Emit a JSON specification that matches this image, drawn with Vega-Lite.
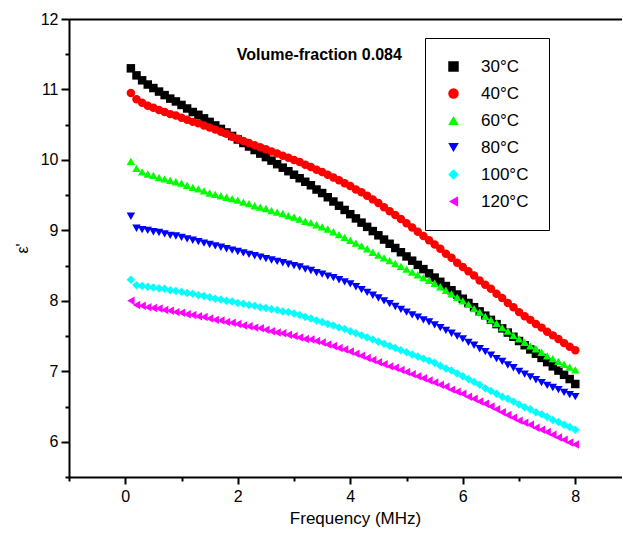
{
  "$schema": "https://vega.github.io/schema/vega-lite/v6.json",
  "width": 553,
  "height": 458,
  "autosize": {"type": "none"},
  "padding": {"left": 69, "top": 19, "right": 0, "bottom": 58},
  "background": "white",
  "config": {
    "font": "Liberation Sans",
    "view": {"stroke": null}
  },
  "resolve": {"axis": {"x": "independent", "y": "independent"}},
  "layer": [
    {
      "data": {"values": [
{"T":"30°C","f":0.1,"e":11.30},{"T":"30°C","f":0.2,"e":11.20},{"T":"30°C","f":0.3,"e":11.13},{"T":"30°C","f":0.4,"e":11.07},{"T":"30°C","f":0.5,"e":11.02},{"T":"30°C","f":0.6,"e":10.97},{"T":"30°C","f":0.7,"e":10.92},{"T":"30°C","f":0.8,"e":10.87},{"T":"30°C","f":0.9,"e":10.83},{"T":"30°C","f":1.0,"e":10.78},
{"T":"30°C","f":1.1,"e":10.73},{"T":"30°C","f":1.2,"e":10.68},{"T":"30°C","f":1.3,"e":10.64},{"T":"30°C","f":1.4,"e":10.59},{"T":"30°C","f":1.5,"e":10.54},{"T":"30°C","f":1.6,"e":10.49},{"T":"30°C","f":1.7,"e":10.44},{"T":"30°C","f":1.8,"e":10.39},{"T":"30°C","f":1.9,"e":10.34},{"T":"30°C","f":2.0,"e":10.29},
{"T":"30°C","f":2.1,"e":10.24},{"T":"30°C","f":2.2,"e":10.19},{"T":"30°C","f":2.3,"e":10.14},{"T":"30°C","f":2.4,"e":10.09},{"T":"30°C","f":2.5,"e":10.04},{"T":"30°C","f":2.6,"e":9.99},{"T":"30°C","f":2.7,"e":9.94},{"T":"30°C","f":2.8,"e":9.89},{"T":"30°C","f":2.9,"e":9.84},{"T":"30°C","f":3.0,"e":9.79},
{"T":"30°C","f":3.1,"e":9.74},{"T":"30°C","f":3.2,"e":9.69},{"T":"30°C","f":3.3,"e":9.64},{"T":"30°C","f":3.4,"e":9.58},{"T":"30°C","f":3.5,"e":9.53},{"T":"30°C","f":3.6,"e":9.47},{"T":"30°C","f":3.7,"e":9.41},{"T":"30°C","f":3.8,"e":9.35},{"T":"30°C","f":3.9,"e":9.29},{"T":"30°C","f":4.0,"e":9.23},
{"T":"30°C","f":4.1,"e":9.17},{"T":"30°C","f":4.2,"e":9.11},{"T":"30°C","f":4.3,"e":9.05},{"T":"30°C","f":4.4,"e":8.99},{"T":"30°C","f":4.5,"e":8.93},{"T":"30°C","f":4.6,"e":8.87},{"T":"30°C","f":4.7,"e":8.81},{"T":"30°C","f":4.8,"e":8.75},{"T":"30°C","f":4.9,"e":8.69},{"T":"30°C","f":5.0,"e":8.63},
{"T":"30°C","f":5.1,"e":8.57},{"T":"30°C","f":5.2,"e":8.51},{"T":"30°C","f":5.3,"e":8.45},{"T":"30°C","f":5.4,"e":8.39},{"T":"30°C","f":5.5,"e":8.33},{"T":"30°C","f":5.6,"e":8.27},{"T":"30°C","f":5.7,"e":8.21},{"T":"30°C","f":5.8,"e":8.15},{"T":"30°C","f":5.9,"e":8.09},{"T":"30°C","f":6.0,"e":8.03},
{"T":"30°C","f":6.1,"e":7.97},{"T":"30°C","f":6.2,"e":7.91},{"T":"30°C","f":6.3,"e":7.85},{"T":"30°C","f":6.4,"e":7.79},{"T":"30°C","f":6.5,"e":7.73},{"T":"30°C","f":6.6,"e":7.67},{"T":"30°C","f":6.7,"e":7.61},{"T":"30°C","f":6.8,"e":7.55},{"T":"30°C","f":6.9,"e":7.49},{"T":"30°C","f":7.0,"e":7.43},
{"T":"30°C","f":7.1,"e":7.37},{"T":"30°C","f":7.2,"e":7.31},{"T":"30°C","f":7.3,"e":7.25},{"T":"30°C","f":7.4,"e":7.19},{"T":"30°C","f":7.5,"e":7.13},{"T":"30°C","f":7.6,"e":7.07},{"T":"30°C","f":7.7,"e":7.01},{"T":"30°C","f":7.8,"e":6.95},{"T":"30°C","f":7.9,"e":6.89},{"T":"30°C","f":8.0,"e":6.82},
{"T":"40°C","f":0.1,"e":10.95},{"T":"40°C","f":0.2,"e":10.86},{"T":"40°C","f":0.3,"e":10.81},{"T":"40°C","f":0.4,"e":10.77},{"T":"40°C","f":0.5,"e":10.74},{"T":"40°C","f":0.6,"e":10.71},{"T":"40°C","f":0.7,"e":10.68},{"T":"40°C","f":0.8,"e":10.65},{"T":"40°C","f":0.9,"e":10.63},{"T":"40°C","f":1.0,"e":10.60},
{"T":"40°C","f":1.1,"e":10.57},{"T":"40°C","f":1.2,"e":10.54},{"T":"40°C","f":1.3,"e":10.52},{"T":"40°C","f":1.4,"e":10.49},{"T":"40°C","f":1.5,"e":10.46},{"T":"40°C","f":1.6,"e":10.43},{"T":"40°C","f":1.7,"e":10.40},{"T":"40°C","f":1.8,"e":10.37},{"T":"40°C","f":1.9,"e":10.33},{"T":"40°C","f":2.0,"e":10.30},
{"T":"40°C","f":2.1,"e":10.27},{"T":"40°C","f":2.2,"e":10.24},{"T":"40°C","f":2.3,"e":10.21},{"T":"40°C","f":2.4,"e":10.18},{"T":"40°C","f":2.5,"e":10.15},{"T":"40°C","f":2.6,"e":10.12},{"T":"40°C","f":2.7,"e":10.09},{"T":"40°C","f":2.8,"e":10.06},{"T":"40°C","f":2.9,"e":10.03},{"T":"40°C","f":3.0,"e":10.00},
{"T":"40°C","f":3.1,"e":9.97},{"T":"40°C","f":3.2,"e":9.93},{"T":"40°C","f":3.3,"e":9.90},{"T":"40°C","f":3.4,"e":9.86},{"T":"40°C","f":3.5,"e":9.83},{"T":"40°C","f":3.6,"e":9.79},{"T":"40°C","f":3.7,"e":9.75},{"T":"40°C","f":3.8,"e":9.71},{"T":"40°C","f":3.9,"e":9.67},{"T":"40°C","f":4.0,"e":9.63},
{"T":"40°C","f":4.1,"e":9.58},{"T":"40°C","f":4.2,"e":9.54},{"T":"40°C","f":4.3,"e":9.49},{"T":"40°C","f":4.4,"e":9.44},{"T":"40°C","f":4.5,"e":9.39},{"T":"40°C","f":4.6,"e":9.33},{"T":"40°C","f":4.7,"e":9.27},{"T":"40°C","f":4.8,"e":9.22},{"T":"40°C","f":4.9,"e":9.16},{"T":"40°C","f":5.0,"e":9.10},
{"T":"40°C","f":5.1,"e":9.04},{"T":"40°C","f":5.2,"e":8.98},{"T":"40°C","f":5.3,"e":8.92},{"T":"40°C","f":5.4,"e":8.86},{"T":"40°C","f":5.5,"e":8.80},{"T":"40°C","f":5.6,"e":8.74},{"T":"40°C","f":5.7,"e":8.67},{"T":"40°C","f":5.8,"e":8.61},{"T":"40°C","f":5.9,"e":8.54},{"T":"40°C","f":6.0,"e":8.48},
{"T":"40°C","f":6.1,"e":8.42},{"T":"40°C","f":6.2,"e":8.36},{"T":"40°C","f":6.3,"e":8.29},{"T":"40°C","f":6.4,"e":8.23},{"T":"40°C","f":6.5,"e":8.17},{"T":"40°C","f":6.6,"e":8.10},{"T":"40°C","f":6.7,"e":8.04},{"T":"40°C","f":6.8,"e":7.97},{"T":"40°C","f":6.9,"e":7.91},{"T":"40°C","f":7.0,"e":7.84},
{"T":"40°C","f":7.1,"e":7.78},{"T":"40°C","f":7.2,"e":7.73},{"T":"40°C","f":7.3,"e":7.67},{"T":"40°C","f":7.4,"e":7.62},{"T":"40°C","f":7.5,"e":7.56},{"T":"40°C","f":7.6,"e":7.51},{"T":"40°C","f":7.7,"e":7.46},{"T":"40°C","f":7.8,"e":7.40},{"T":"40°C","f":7.9,"e":7.35},{"T":"40°C","f":8.0,"e":7.30},
{"T":"60°C","f":0.1,"e":9.98},{"T":"60°C","f":0.2,"e":9.88},{"T":"60°C","f":0.3,"e":9.83},{"T":"60°C","f":0.4,"e":9.80},{"T":"60°C","f":0.5,"e":9.78},{"T":"60°C","f":0.6,"e":9.75},{"T":"60°C","f":0.7,"e":9.73},{"T":"60°C","f":0.8,"e":9.71},{"T":"60°C","f":0.9,"e":9.69},{"T":"60°C","f":1.0,"e":9.67},
{"T":"60°C","f":1.1,"e":9.64},{"T":"60°C","f":1.2,"e":9.61},{"T":"60°C","f":1.3,"e":9.59},{"T":"60°C","f":1.4,"e":9.56},{"T":"60°C","f":1.5,"e":9.53},{"T":"60°C","f":1.6,"e":9.51},{"T":"60°C","f":1.7,"e":9.49},{"T":"60°C","f":1.8,"e":9.47},{"T":"60°C","f":1.9,"e":9.45},{"T":"60°C","f":2.0,"e":9.43},
{"T":"60°C","f":2.1,"e":9.40},{"T":"60°C","f":2.2,"e":9.38},{"T":"60°C","f":2.3,"e":9.35},{"T":"60°C","f":2.4,"e":9.33},{"T":"60°C","f":2.5,"e":9.31},{"T":"60°C","f":2.6,"e":9.28},{"T":"60°C","f":2.7,"e":9.26},{"T":"60°C","f":2.8,"e":9.24},{"T":"60°C","f":2.9,"e":9.21},{"T":"60°C","f":3.0,"e":9.19},
{"T":"60°C","f":3.1,"e":9.16},{"T":"60°C","f":3.2,"e":9.13},{"T":"60°C","f":3.3,"e":9.11},{"T":"60°C","f":3.4,"e":9.08},{"T":"60°C","f":3.5,"e":9.05},{"T":"60°C","f":3.6,"e":9.02},{"T":"60°C","f":3.7,"e":8.98},{"T":"60°C","f":3.8,"e":8.94},{"T":"60°C","f":3.9,"e":8.90},{"T":"60°C","f":4.0,"e":8.86},
{"T":"60°C","f":4.1,"e":8.82},{"T":"60°C","f":4.2,"e":8.78},{"T":"60°C","f":4.3,"e":8.74},{"T":"60°C","f":4.4,"e":8.69},{"T":"60°C","f":4.5,"e":8.65},{"T":"60°C","f":4.6,"e":8.61},{"T":"60°C","f":4.7,"e":8.57},{"T":"60°C","f":4.8,"e":8.53},{"T":"60°C","f":4.9,"e":8.49},{"T":"60°C","f":5.0,"e":8.45},
{"T":"60°C","f":5.1,"e":8.41},{"T":"60°C","f":5.2,"e":8.37},{"T":"60°C","f":5.3,"e":8.33},{"T":"60°C","f":5.4,"e":8.29},{"T":"60°C","f":5.5,"e":8.25},{"T":"60°C","f":5.6,"e":8.20},{"T":"60°C","f":5.7,"e":8.15},{"T":"60°C","f":5.8,"e":8.10},{"T":"60°C","f":5.9,"e":8.05},{"T":"60°C","f":6.0,"e":8.00},
{"T":"60°C","f":6.1,"e":7.95},{"T":"60°C","f":6.2,"e":7.89},{"T":"60°C","f":6.3,"e":7.84},{"T":"60°C","f":6.4,"e":7.78},{"T":"60°C","f":6.5,"e":7.73},{"T":"60°C","f":6.6,"e":7.68},{"T":"60°C","f":6.7,"e":7.62},{"T":"60°C","f":6.8,"e":7.57},{"T":"60°C","f":6.9,"e":7.51},{"T":"60°C","f":7.0,"e":7.46},
{"T":"60°C","f":7.1,"e":7.41},{"T":"60°C","f":7.2,"e":7.36},{"T":"60°C","f":7.3,"e":7.32},{"T":"60°C","f":7.4,"e":7.27},{"T":"60°C","f":7.5,"e":7.22},{"T":"60°C","f":7.6,"e":7.18},{"T":"60°C","f":7.7,"e":7.14},{"T":"60°C","f":7.8,"e":7.10},{"T":"60°C","f":7.9,"e":7.06},{"T":"60°C","f":8.0,"e":7.02},
{"T":"80°C","f":0.1,"e":9.20},{"T":"80°C","f":0.2,"e":9.03},{"T":"80°C","f":0.3,"e":9.01},{"T":"80°C","f":0.4,"e":9.00},{"T":"80°C","f":0.5,"e":8.98},{"T":"80°C","f":0.6,"e":8.97},{"T":"80°C","f":0.7,"e":8.95},{"T":"80°C","f":0.8,"e":8.93},{"T":"80°C","f":0.9,"e":8.92},{"T":"80°C","f":1.0,"e":8.90},
{"T":"80°C","f":1.1,"e":8.88},{"T":"80°C","f":1.2,"e":8.86},{"T":"80°C","f":1.3,"e":8.84},{"T":"80°C","f":1.4,"e":8.82},{"T":"80°C","f":1.5,"e":8.80},{"T":"80°C","f":1.6,"e":8.78},{"T":"80°C","f":1.7,"e":8.76},{"T":"80°C","f":1.8,"e":8.74},{"T":"80°C","f":1.9,"e":8.72},{"T":"80°C","f":2.0,"e":8.70},
{"T":"80°C","f":2.1,"e":8.68},{"T":"80°C","f":2.2,"e":8.66},{"T":"80°C","f":2.3,"e":8.64},{"T":"80°C","f":2.4,"e":8.62},{"T":"80°C","f":2.5,"e":8.60},{"T":"80°C","f":2.6,"e":8.58},{"T":"80°C","f":2.7,"e":8.56},{"T":"80°C","f":2.8,"e":8.54},{"T":"80°C","f":2.9,"e":8.52},{"T":"80°C","f":3.0,"e":8.50},
{"T":"80°C","f":3.1,"e":8.48},{"T":"80°C","f":3.2,"e":8.45},{"T":"80°C","f":3.3,"e":8.43},{"T":"80°C","f":3.4,"e":8.40},{"T":"80°C","f":3.5,"e":8.38},{"T":"80°C","f":3.6,"e":8.35},{"T":"80°C","f":3.7,"e":8.33},{"T":"80°C","f":3.8,"e":8.30},{"T":"80°C","f":3.9,"e":8.27},{"T":"80°C","f":4.0,"e":8.24},
{"T":"80°C","f":4.1,"e":8.20},{"T":"80°C","f":4.2,"e":8.16},{"T":"80°C","f":4.3,"e":8.12},{"T":"80°C","f":4.4,"e":8.08},{"T":"80°C","f":4.5,"e":8.04},{"T":"80°C","f":4.6,"e":8.00},{"T":"80°C","f":4.7,"e":7.96},{"T":"80°C","f":4.8,"e":7.92},{"T":"80°C","f":4.9,"e":7.88},{"T":"80°C","f":5.0,"e":7.84},
{"T":"80°C","f":5.1,"e":7.80},{"T":"80°C","f":5.2,"e":7.77},{"T":"80°C","f":5.3,"e":7.73},{"T":"80°C","f":5.4,"e":7.70},{"T":"80°C","f":5.5,"e":7.66},{"T":"80°C","f":5.6,"e":7.62},{"T":"80°C","f":5.7,"e":7.58},{"T":"80°C","f":5.8,"e":7.54},{"T":"80°C","f":5.9,"e":7.50},{"T":"80°C","f":6.0,"e":7.46},
{"T":"80°C","f":6.1,"e":7.41},{"T":"80°C","f":6.2,"e":7.37},{"T":"80°C","f":6.3,"e":7.32},{"T":"80°C","f":6.4,"e":7.28},{"T":"80°C","f":6.5,"e":7.23},{"T":"80°C","f":6.6,"e":7.18},{"T":"80°C","f":6.7,"e":7.14},{"T":"80°C","f":6.8,"e":7.09},{"T":"80°C","f":6.9,"e":7.05},{"T":"80°C","f":7.0,"e":7.00},
{"T":"80°C","f":7.1,"e":6.96},{"T":"80°C","f":7.2,"e":6.92},{"T":"80°C","f":7.3,"e":6.88},{"T":"80°C","f":7.4,"e":6.84},{"T":"80°C","f":7.5,"e":6.80},{"T":"80°C","f":7.6,"e":6.77},{"T":"80°C","f":7.7,"e":6.74},{"T":"80°C","f":7.8,"e":6.70},{"T":"80°C","f":7.9,"e":6.67},{"T":"80°C","f":8.0,"e":6.64},
{"T":"100°C","f":0.1,"e":8.30},{"T":"100°C","f":0.2,"e":8.22},{"T":"100°C","f":0.3,"e":8.21},{"T":"100°C","f":0.4,"e":8.20},{"T":"100°C","f":0.5,"e":8.19},{"T":"100°C","f":0.6,"e":8.18},{"T":"100°C","f":0.7,"e":8.17},{"T":"100°C","f":0.8,"e":8.15},{"T":"100°C","f":0.9,"e":8.14},{"T":"100°C","f":1.0,"e":8.13},
{"T":"100°C","f":1.1,"e":8.11},{"T":"100°C","f":1.2,"e":8.10},{"T":"100°C","f":1.3,"e":8.08},{"T":"100°C","f":1.4,"e":8.07},{"T":"100°C","f":1.5,"e":8.05},{"T":"100°C","f":1.6,"e":8.03},{"T":"100°C","f":1.7,"e":8.02},{"T":"100°C","f":1.8,"e":8.00},{"T":"100°C","f":1.9,"e":7.99},{"T":"100°C","f":2.0,"e":7.97},
{"T":"100°C","f":2.1,"e":7.96},{"T":"100°C","f":2.2,"e":7.94},{"T":"100°C","f":2.3,"e":7.93},{"T":"100°C","f":2.4,"e":7.91},{"T":"100°C","f":2.5,"e":7.90},{"T":"100°C","f":2.6,"e":7.88},{"T":"100°C","f":2.7,"e":7.87},{"T":"100°C","f":2.8,"e":7.85},{"T":"100°C","f":2.9,"e":7.84},{"T":"100°C","f":3.0,"e":7.82},
{"T":"100°C","f":3.1,"e":7.80},{"T":"100°C","f":3.2,"e":7.77},{"T":"100°C","f":3.3,"e":7.75},{"T":"100°C","f":3.4,"e":7.72},{"T":"100°C","f":3.5,"e":7.70},{"T":"100°C","f":3.6,"e":7.67},{"T":"100°C","f":3.7,"e":7.65},{"T":"100°C","f":3.8,"e":7.62},{"T":"100°C","f":3.9,"e":7.60},{"T":"100°C","f":4.0,"e":7.57},
{"T":"100°C","f":4.1,"e":7.54},{"T":"100°C","f":4.2,"e":7.51},{"T":"100°C","f":4.3,"e":7.48},{"T":"100°C","f":4.4,"e":7.45},{"T":"100°C","f":4.5,"e":7.42},{"T":"100°C","f":4.6,"e":7.39},{"T":"100°C","f":4.7,"e":7.36},{"T":"100°C","f":4.8,"e":7.33},{"T":"100°C","f":4.9,"e":7.30},{"T":"100°C","f":5.0,"e":7.27},
{"T":"100°C","f":5.1,"e":7.24},{"T":"100°C","f":5.2,"e":7.21},{"T":"100°C","f":5.3,"e":7.18},{"T":"100°C","f":5.4,"e":7.15},{"T":"100°C","f":5.5,"e":7.12},{"T":"100°C","f":5.6,"e":7.08},{"T":"100°C","f":5.7,"e":7.04},{"T":"100°C","f":5.8,"e":7.01},{"T":"100°C","f":5.9,"e":6.97},{"T":"100°C","f":6.0,"e":6.93},
{"T":"100°C","f":6.1,"e":6.89},{"T":"100°C","f":6.2,"e":6.85},{"T":"100°C","f":6.3,"e":6.81},{"T":"100°C","f":6.4,"e":6.76},{"T":"100°C","f":6.5,"e":6.72},{"T":"100°C","f":6.6,"e":6.68},{"T":"100°C","f":6.7,"e":6.64},{"T":"100°C","f":6.8,"e":6.61},{"T":"100°C","f":6.9,"e":6.57},{"T":"100°C","f":7.0,"e":6.53},
{"T":"100°C","f":7.1,"e":6.49},{"T":"100°C","f":7.2,"e":6.46},{"T":"100°C","f":7.3,"e":6.42},{"T":"100°C","f":7.4,"e":6.39},{"T":"100°C","f":7.5,"e":6.35},{"T":"100°C","f":7.6,"e":6.31},{"T":"100°C","f":7.7,"e":6.28},{"T":"100°C","f":7.8,"e":6.24},{"T":"100°C","f":7.9,"e":6.21},{"T":"100°C","f":8.0,"e":6.17},
{"T":"120°C","f":0.1,"e":8.00},{"T":"120°C","f":0.2,"e":7.94},{"T":"120°C","f":0.3,"e":7.93},{"T":"120°C","f":0.4,"e":7.91},{"T":"120°C","f":0.5,"e":7.90},{"T":"120°C","f":0.6,"e":7.89},{"T":"120°C","f":0.7,"e":7.87},{"T":"120°C","f":0.8,"e":7.86},{"T":"120°C","f":0.9,"e":7.84},{"T":"120°C","f":1.0,"e":7.83},
{"T":"120°C","f":1.1,"e":7.81},{"T":"120°C","f":1.2,"e":7.80},{"T":"120°C","f":1.3,"e":7.78},{"T":"120°C","f":1.4,"e":7.77},{"T":"120°C","f":1.5,"e":7.75},{"T":"120°C","f":1.6,"e":7.73},{"T":"120°C","f":1.7,"e":7.72},{"T":"120°C","f":1.8,"e":7.70},{"T":"120°C","f":1.9,"e":7.69},{"T":"120°C","f":2.0,"e":7.67},
{"T":"120°C","f":2.1,"e":7.65},{"T":"120°C","f":2.2,"e":7.64},{"T":"120°C","f":2.3,"e":7.62},{"T":"120°C","f":2.4,"e":7.61},{"T":"120°C","f":2.5,"e":7.59},{"T":"120°C","f":2.6,"e":7.57},{"T":"120°C","f":2.7,"e":7.55},{"T":"120°C","f":2.8,"e":7.54},{"T":"120°C","f":2.9,"e":7.52},{"T":"120°C","f":3.0,"e":7.50},
{"T":"120°C","f":3.1,"e":7.48},{"T":"120°C","f":3.2,"e":7.46},{"T":"120°C","f":3.3,"e":7.45},{"T":"120°C","f":3.4,"e":7.43},{"T":"120°C","f":3.5,"e":7.41},{"T":"120°C","f":3.6,"e":7.38},{"T":"120°C","f":3.7,"e":7.36},{"T":"120°C","f":3.8,"e":7.33},{"T":"120°C","f":3.9,"e":7.31},{"T":"120°C","f":4.0,"e":7.28},
{"T":"120°C","f":4.1,"e":7.25},{"T":"120°C","f":4.2,"e":7.22},{"T":"120°C","f":4.3,"e":7.19},{"T":"120°C","f":4.4,"e":7.16},{"T":"120°C","f":4.5,"e":7.13},{"T":"120°C","f":4.6,"e":7.10},{"T":"120°C","f":4.7,"e":7.07},{"T":"120°C","f":4.8,"e":7.05},{"T":"120°C","f":4.9,"e":7.02},{"T":"120°C","f":5.0,"e":6.99},
{"T":"120°C","f":5.1,"e":6.96},{"T":"120°C","f":5.2,"e":6.93},{"T":"120°C","f":5.3,"e":6.90},{"T":"120°C","f":5.4,"e":6.87},{"T":"120°C","f":5.5,"e":6.84},{"T":"120°C","f":5.6,"e":6.81},{"T":"120°C","f":5.7,"e":6.78},{"T":"120°C","f":5.8,"e":6.74},{"T":"120°C","f":5.9,"e":6.71},{"T":"120°C","f":6.0,"e":6.68},
{"T":"120°C","f":6.1,"e":6.64},{"T":"120°C","f":6.2,"e":6.61},{"T":"120°C","f":6.3,"e":6.57},{"T":"120°C","f":6.4,"e":6.54},{"T":"120°C","f":6.5,"e":6.50},{"T":"120°C","f":6.6,"e":6.46},{"T":"120°C","f":6.7,"e":6.42},{"T":"120°C","f":6.8,"e":6.38},{"T":"120°C","f":6.9,"e":6.34},{"T":"120°C","f":7.0,"e":6.30},
{"T":"120°C","f":7.1,"e":6.27},{"T":"120°C","f":7.2,"e":6.24},{"T":"120°C","f":7.3,"e":6.20},{"T":"120°C","f":7.4,"e":6.17},{"T":"120°C","f":7.5,"e":6.14},{"T":"120°C","f":7.6,"e":6.10},{"T":"120°C","f":7.7,"e":6.06},{"T":"120°C","f":7.8,"e":6.03},{"T":"120°C","f":7.9,"e":5.99},{"T":"120°C","f":8.0,"e":5.96}
      ]},
      "mark": {"type": "point", "filled": true, "opacity": 1, "size": 72, "strokeWidth": 0},
      "encoding": {
        "x": {
          "field": "f", "type": "quantitative",
          "scale": {"domain": [-1, 8.83], "nice": false, "zero": false},
          "axis": {
            "orient": "bottom",
            "title": "Frequency (MHz)",
            "titleFont": "Liberation Sans", "titleFontSize": 17, "titleFontWeight": "normal", "titleColor": "black",
            "titlePadding": 6, "titleX": 286,
            "values": [-1, 0, 1, 2, 3, 4, 5, 6, 7, 8],
            "format": "d",
            "labelExpr": "datum.value % 2 === 0 ? datum.label : ''",
            "labelOverlap": false,
            "labelFont": "Liberation Sans", "labelFontSize": 16, "labelColor": "black", "labelPadding": 4,
            "labelFlush": false,
            "grid": false,
            "domainColor": "black", "domainWidth": 2,
            "tickColor": "black", "tickWidth": 2,
            "tickSize": {"condition": {"test": "datum.value % 2 !== 0", "value": 4}, "value": 7}
          }
        },
        "y": {
          "field": "e", "type": "quantitative",
          "scale": {"domain": [5.5, 12], "nice": false, "zero": false},
          "axis": {
            "orient": "left",
            "title": "ε'",
            "titleFont": "Liberation Sans", "titleFontSize": 16, "titleFontWeight": "normal", "titleColor": "black",
            "titlePadding": 10,
            "values": [5.5, 6, 6.5, 7, 7.5, 8, 8.5, 9, 9.5, 10, 10.5, 11, 11.5, 12],
            "labelExpr": "datum.value % 1 === 0 ? '' + datum.value : ''",
            "labelOverlap": false,
            "labelFont": "Liberation Sans", "labelFontSize": 16, "labelColor": "black", "labelPadding": 3,
            "labelFlush": false,
            "grid": false,
            "domainColor": "black", "domainWidth": 2,
            "tickColor": "black", "tickWidth": 2,
            "tickSize": {"condition": {"test": "datum.value % 1 !== 0", "value": 4}, "value": 8}
          }
        },
        "color": {
          "field": "T", "type": "nominal",
          "scale": {
            "domain": ["30°C", "40°C", "60°C", "80°C", "100°C", "120°C"],
            "range": ["#000000", "#ff0000", "#00ff00", "#0000ff", "#00ffff", "#ff00ff"]
          },
          "legend": {
            "orient": "none", "legendX": 356, "legendY": 19,
            "title": null,
            "strokeColor": "black", "fillColor": "white",
            "padding": 20,
            "labelFont": "Liberation Sans", "labelFontSize": 17, "labelColor": "black",
            "labelOffset": 19,
            "rowPadding": 9,
            "symbolSize": 110, "symbolStrokeWidth": 0, "symbolOpacity": 1
          }
        },
        "shape": {
          "field": "T", "type": "nominal",
          "scale": {
            "domain": ["30°C", "40°C", "60°C", "80°C", "100°C", "120°C"],
            "range": ["square", "circle", "triangle-up", "triangle-down", "diamond", "triangle-left"]
          },
          "legend": null
        }
      }
    },
    {
      "data": {"values": [{"label": "Volume-fraction 0.084"}]},
      "mark": {"type": "text", "font": "Liberation Sans", "fontSize": 16, "fontWeight": "bold", "fill": "black", "align": "center", "baseline": "middle"},
      "encoding": {
        "x": {"datum": 3.45, "type": "quantitative", "axis": {"orient": "top", "title": null, "labels": false, "ticks": false, "domainColor": "black", "domainWidth": 2, "grid": false}},
        "y": {"datum": 11.49, "type": "quantitative", "axis": null},
        "text": {"field": "label", "type": "nominal"}
      }
    }
  ]
}
